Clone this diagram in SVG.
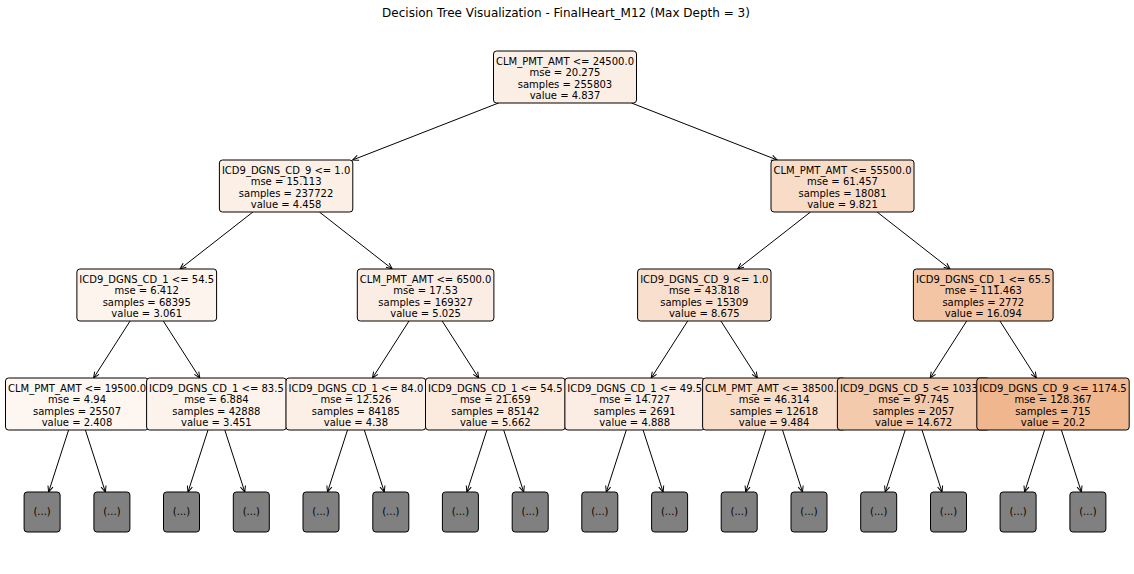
<svg xmlns="http://www.w3.org/2000/svg" width="1134" height="574" viewBox="0 0 1134 574">
<style>
text{font-family:"DejaVu Sans",Verdana,sans-serif;font-size:10px;fill:#000;text-anchor:middle}
.title{font-size:12px}
.box{stroke:#000;stroke-width:1}
.leaf{fill:#808080;stroke:#000;stroke-width:1}
.edge{stroke:#000;stroke-width:1;fill:none;marker-end:url(#ah)}
</style>
<defs>
<marker id="ah" viewBox="-8 -5 10 10" markerWidth="10" markerHeight="10" refX="0" refY="0" orient="auto" markerUnits="userSpaceOnUse">
<path d="M-6,-2.6 L0,0 L-6,2.6" fill="none" stroke="#000" stroke-width="1"/>
</marker>
</defs>
<rect width="1134" height="574" fill="#fff"/>
<text class="title" x="566" y="17">Decision Tree Visualization - FinalHeart_M12 (Max Depth = 3)</text>

<g id="connectors">
<line class="edge" x1="498.5" y1="103" x2="352.6" y2="160"/>
<line class="edge" x1="631.5" y1="103" x2="777.3" y2="160"/>
<line class="edge" x1="252.9" y1="212" x2="180" y2="269"/>
<line class="edge" x1="319.4" y1="212" x2="392.3" y2="269"/>
<line class="edge" x1="810.5" y1="212" x2="737.6" y2="269"/>
<line class="edge" x1="877.1" y1="212" x2="950" y2="269"/>
<line class="edge" x1="130.1" y1="321" x2="93.6" y2="378"/>
<line class="edge" x1="163.3" y1="321" x2="199.8" y2="378"/>
<line class="edge" x1="409" y1="321" x2="372.5" y2="378"/>
<line class="edge" x1="442.2" y1="321" x2="478.7" y2="378"/>
<line class="edge" x1="687.7" y1="321" x2="651.2" y2="378"/>
<line class="edge" x1="720.9" y1="321" x2="757.4" y2="378"/>
<line class="edge" x1="966.7" y1="321" x2="930.2" y2="378"/>
<line class="edge" x1="999.9" y1="321" x2="1036.4" y2="378"/>
<line class="edge" x1="68.6" y1="430" x2="48.6" y2="492"/>
<line class="edge" x1="85.4" y1="430" x2="105.4" y2="492"/>
<line class="edge" x1="208" y1="430" x2="188" y2="492"/>
<line class="edge" x1="224.8" y1="430" x2="244.8" y2="492"/>
<line class="edge" x1="347.5" y1="430" x2="327.5" y2="492"/>
<line class="edge" x1="364.3" y1="430" x2="384.3" y2="492"/>
<line class="edge" x1="486.9" y1="430" x2="466.9" y2="492"/>
<line class="edge" x1="503.7" y1="430" x2="523.7" y2="492"/>
<line class="edge" x1="626.3" y1="430" x2="606.3" y2="492"/>
<line class="edge" x1="643.1" y1="430" x2="663.1" y2="492"/>
<line class="edge" x1="765.7" y1="430" x2="745.7" y2="492"/>
<line class="edge" x1="782.5" y1="430" x2="802.5" y2="492"/>
<line class="edge" x1="905.2" y1="430" x2="885.2" y2="492"/>
<line class="edge" x1="922" y1="430" x2="942" y2="492"/>
<line class="edge" x1="1044.6" y1="430" x2="1024.6" y2="492"/>
<line class="edge" x1="1061.4" y1="430" x2="1081.4" y2="492"/>
</g>

<g id="n0">
<rect class="box" x="493.5" y="51" width="143" height="52" rx="3" fill="#fbeee4"/>
<text x="565" y="64.5">CLM_PMT_AMT &lt;= 24500.0</text>
<text x="565" y="76">mse = 20.275</text>
<text x="565" y="87.5">samples = 255803</text>
<text x="565" y="99">value = 4.837</text>
</g>

<g id="n1">
<rect class="box" x="219.4" y="160" width="133.4" height="52" rx="3" fill="#fcefe6"/>
<text x="286.1" y="173.5">ICD9_DGNS_CD_9 &lt;= 1.0</text>
<text x="286.1" y="185">mse = 15.113</text>
<text x="286.1" y="196.5">samples = 237722</text>
<text x="286.1" y="208">value = 4.458</text>
</g>

<g id="n2">
<rect class="box" x="76.9" y="269" width="139.7" height="52" rx="3" fill="#fdf4ee"/>
<text x="146.7" y="282.5">ICD9_DGNS_CD_1 &lt;= 54.5</text>
<text x="146.7" y="294">mse = 6.412</text>
<text x="146.7" y="305.5">samples = 68395</text>
<text x="146.7" y="317">value = 3.061</text>
</g>

<g id="n3">
<rect class="box" x="5.5" y="378" width="143" height="52" rx="3" fill="#fdf6f1"/>
<text x="77" y="391.5">CLM_PMT_AMT &lt;= 19500.0</text>
<text x="77" y="403">mse = 4.94</text>
<text x="77" y="414.5">samples = 25507</text>
<text x="77" y="426">value = 2.408</text>
</g>
<g id="l0"><rect class="leaf" x="24.1" y="492" width="36" height="40" rx="3"/><text x="42.1" y="515">(...)</text></g>
<g id="l1"><rect class="leaf" x="93.9" y="492" width="36" height="40" rx="3"/><text x="111.9" y="515">(...)</text></g>

<g id="n4">
<rect class="box" x="146.6" y="378" width="139.7" height="52" rx="3" fill="#fcf3ec"/>
<text x="216.4" y="391.5">ICD9_DGNS_CD_1 &lt;= 83.5</text>
<text x="216.4" y="403">mse = 6.884</text>
<text x="216.4" y="414.5">samples = 42888</text>
<text x="216.4" y="426">value = 3.451</text>
</g>
<g id="l2"><rect class="leaf" x="163.5" y="492" width="36" height="40" rx="3"/><text x="181.5" y="515">(...)</text></g>
<g id="l3"><rect class="leaf" x="233.3" y="492" width="36" height="40" rx="3"/><text x="251.3" y="515">(...)</text></g>

<g id="n5">
<rect class="box" x="357.3" y="269" width="136.6" height="52" rx="3" fill="#fbede3"/>
<text x="425.6" y="282.5">CLM_PMT_AMT &lt;= 6500.0</text>
<text x="425.6" y="294">mse = 17.53</text>
<text x="425.6" y="305.5">samples = 169327</text>
<text x="425.6" y="317">value = 5.025</text>
</g>

<g id="n6">
<rect class="box" x="286" y="378" width="139.7" height="52" rx="3" fill="#fcefe6"/>
<text x="355.9" y="391.5">ICD9_DGNS_CD_1 &lt;= 84.0</text>
<text x="355.9" y="403">mse = 12.526</text>
<text x="355.9" y="414.5">samples = 84185</text>
<text x="355.9" y="426">value = 4.38</text>
</g>
<g id="l4"><rect class="leaf" x="303" y="492" width="36" height="40" rx="3"/><text x="321" y="515">(...)</text></g>
<g id="l5"><rect class="leaf" x="372.8" y="492" width="36" height="40" rx="3"/><text x="390.8" y="515">(...)</text></g>

<g id="n7">
<rect class="box" x="425.5" y="378" width="139.7" height="52" rx="3" fill="#fbebdf"/>
<text x="495.3" y="391.5">ICD9_DGNS_CD_1 &lt;= 54.5</text>
<text x="495.3" y="403">mse = 21.659</text>
<text x="495.3" y="414.5">samples = 85142</text>
<text x="495.3" y="426">value = 5.662</text>
</g>
<g id="l6"><rect class="leaf" x="442.4" y="492" width="36" height="40" rx="3"/><text x="460.4" y="515">(...)</text></g>
<g id="l7"><rect class="leaf" x="512.2" y="492" width="36" height="40" rx="3"/><text x="530.2" y="515">(...)</text></g>

<g id="n8">
<rect class="box" x="771" y="160" width="143" height="52" rx="3" fill="#f8dcc7"/>
<text x="842.5" y="173.5">CLM_PMT_AMT &lt;= 55500.0</text>
<text x="842.5" y="185">mse = 61.457</text>
<text x="842.5" y="196.5">samples = 18081</text>
<text x="842.5" y="208">value = 9.821</text>
</g>

<g id="n9">
<rect class="box" x="637.6" y="269" width="133.4" height="52" rx="3" fill="#f9e0ce"/>
<text x="704.3" y="282.5">ICD9_DGNS_CD_9 &lt;= 1.0</text>
<text x="704.3" y="294">mse = 43.818</text>
<text x="704.3" y="305.5">samples = 15309</text>
<text x="704.3" y="317">value = 8.675</text>
</g>

<g id="n10">
<rect class="box" x="564.9" y="378" width="139.7" height="52" rx="3" fill="#fbede3"/>
<text x="634.7" y="391.5">ICD9_DGNS_CD_1 &lt;= 49.5</text>
<text x="634.7" y="403">mse = 14.727</text>
<text x="634.7" y="414.5">samples = 2691</text>
<text x="634.7" y="426">value = 4.888</text>
</g>
<g id="l8"><rect class="leaf" x="581.8" y="492" width="36" height="40" rx="3"/><text x="599.8" y="515">(...)</text></g>
<g id="l9"><rect class="leaf" x="651.6" y="492" width="36" height="40" rx="3"/><text x="669.6" y="515">(...)</text></g>

<g id="n11">
<rect class="box" x="702.6" y="378" width="143" height="52" rx="3" fill="#f8ddc9"/>
<text x="774.1" y="391.5">CLM_PMT_AMT &lt;= 38500.0</text>
<text x="774.1" y="403">mse = 46.314</text>
<text x="774.1" y="414.5">samples = 12618</text>
<text x="774.1" y="426">value = 9.484</text>
</g>
<g id="l10"><rect class="leaf" x="721.2" y="492" width="36" height="40" rx="3"/><text x="739.2" y="515">(...)</text></g>
<g id="l11"><rect class="leaf" x="791" y="492" width="36" height="40" rx="3"/><text x="809" y="515">(...)</text></g>

<g id="n12">
<rect class="box" x="913.4" y="269" width="139.7" height="52" rx="3" fill="#f3c5a4"/>
<text x="983.3" y="282.5">ICD9_DGNS_CD_1 &lt;= 65.5</text>
<text x="983.3" y="294">mse = 111.463</text>
<text x="983.3" y="305.5">samples = 2772</text>
<text x="983.3" y="317">value = 16.094</text>
</g>

<g id="n13">
<rect class="box" x="837.4" y="378" width="152.4" height="52" rx="3" fill="#f4caac"/>
<text x="913.6" y="391.5">ICD9_DGNS_CD_5 &lt;= 1033.5</text>
<text x="913.6" y="403">mse = 97.745</text>
<text x="913.6" y="414.5">samples = 2057</text>
<text x="913.6" y="426">value = 14.672</text>
</g>
<g id="l12"><rect class="leaf" x="860.7" y="492" width="36" height="40" rx="3"/><text x="878.7" y="515">(...)</text></g>
<g id="l13"><rect class="leaf" x="930.5" y="492" width="36" height="40" rx="3"/><text x="948.5" y="515">(...)</text></g>

<g id="n14">
<rect class="box" x="976.8" y="378" width="152.4" height="52" rx="3" fill="#f0b68d"/>
<text x="1053" y="391.5">ICD9_DGNS_CD_9 &lt;= 1174.5</text>
<text x="1053" y="403">mse = 128.367</text>
<text x="1053" y="414.5">samples = 715</text>
<text x="1053" y="426">value = 20.2</text>
</g>
<g id="l14"><rect class="leaf" x="1000.1" y="492" width="36" height="40" rx="3"/><text x="1018.1" y="515">(...)</text></g>
<g id="l15"><rect class="leaf" x="1069.9" y="492" width="36" height="40" rx="3"/><text x="1087.9" y="515">(...)</text></g>
</svg>
